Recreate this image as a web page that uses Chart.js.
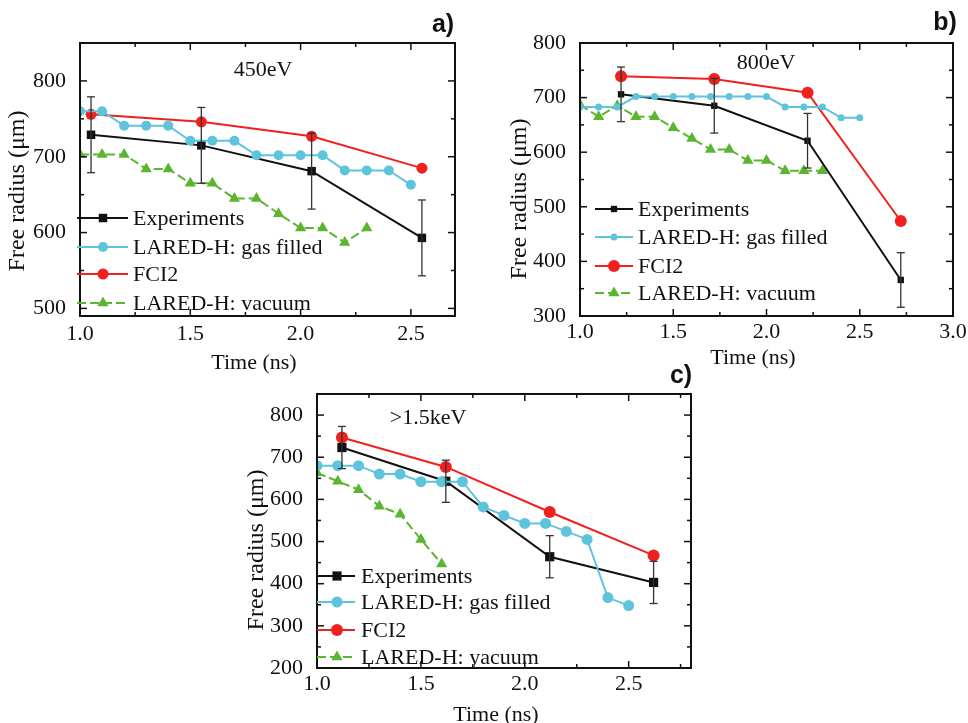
<!DOCTYPE html>
<html>
<head>
<meta charset="utf-8">
<script src="https://cdn.jsdelivr.net/npm/chart.js"></script>
<style>
  body { margin: 0; background: #fff; }
  #wrap { position: relative; width: 968px; height: 723px; overflow: hidden; background: #fff; }
  #wrap canvas { position: absolute; }
</style>
</head>
<body>
<div id="wrap">
  <canvas id="panelA" width="480" height="375" style="left:0px;top:0px"></canvas>
  <canvas id="panelB" width="488" height="375" style="left:480px;top:0px"></canvas>
  <canvas id="panelC" width="480" height="363" style="left:230px;top:360px"></canvas>
</div>
<script>
// a) 450eV
const expTimeA = [1.05, 1.55, 2.05, 2.55];
const expA = [729, 715, 681, 593];
const expErrA = [50, 50, 50, 50];
const fciA = [756, 746, 727, 685];
const gasTimeA = [1.0, 1.1, 1.2, 1.3, 1.4, 1.5, 1.6, 1.7, 1.8, 1.9, 2.0, 2.1, 2.2, 2.3, 2.4, 2.5];
const gasA = [760, 760, 741, 741, 741, 721, 721, 721, 702, 702, 702, 702, 682, 682, 682, 663];
const vacTimeA = [1.0, 1.1, 1.2, 1.3, 1.4, 1.5, 1.6, 1.7, 1.8, 1.9, 2.0, 2.1, 2.2, 2.3];
const vacA = [703, 703, 703, 684, 684, 665, 665, 645, 645, 625, 606, 606, 587, 606];

// b) 800eV
const expTimeB = [1.22, 1.72, 2.22, 2.72];
const expB = [706, 685, 621, 366];
const expErrB = [50, 50, 50, 50];
const fciB = [739, 734, 709, 474];
const gasTimeB = [1.0, 1.1, 1.2, 1.3, 1.4, 1.5, 1.6, 1.7, 1.8, 1.9, 2.0, 2.1, 2.2, 2.3, 2.4, 2.5];
const gasB = [683, 683, 683, 702, 702, 702, 702, 702, 702, 702, 702, 683, 683, 683, 663, 663];
const vacTimeB = [1.0, 1.1, 1.2, 1.3, 1.4, 1.5, 1.6, 1.7, 1.8, 1.9, 2.0, 2.1, 2.2, 2.3];
const vacB = [687, 665, 685, 665, 665, 645, 625, 605, 605, 585, 585, 566, 566, 566];

// c) >1.5keV
const expTimeC = [1.12, 1.62, 2.12, 2.62];
const expC = [723, 643, 464, 403];
const expErrC = [50, 50, 50, 50];
const fciC = [747, 677, 570, 467];
const gasTimeC = [1.0, 1.1, 1.2, 1.3, 1.4, 1.5, 1.6, 1.7, 1.8, 1.9, 2.0, 2.1, 2.2, 2.3, 2.4, 2.5];
const gasC = [680, 680, 680, 660, 660, 642, 642, 642, 582, 562, 543, 543, 524, 505, 367, 348];
const vacTimeC = [1.0, 1.1, 1.2, 1.3, 1.4, 1.5, 1.6];
const vacC = [663, 643, 623, 584, 565, 505, 447];

const seriesLabels = ['Experiments', 'LARED-H: gas filled', 'FCI2', 'LARED-H: vacuum'];

const FONT = 'Liberation Serif';
const INK = '#111';
const COLORS = { exp: '#111111', gas: '#5ec4dc', fci: '#f0201e', vac: '#5cb531' };

function toPoints(xs, ys) {
  return xs.map((x, i) => ({ x: x, y: ys[i] }));
}

function buildDatasets(s) {
  const common = { borderWidth: 2, pointBorderWidth: 0, pointHoverRadius: 0, fill: false };
  return [
    Object.assign({}, common, {
      label: seriesLabels[0], data: toPoints(s.expTime, s.exp), errors: s.expErr,
      borderColor: COLORS.exp, pointBackgroundColor: COLORS.exp, pointStyle: 'rect', pointRadius: s.r[0], order: 1
    }),
    Object.assign({}, common, {
      label: seriesLabels[1], data: toPoints(s.gasTime, s.gas),
      borderColor: COLORS.gas, pointBackgroundColor: COLORS.gas, pointStyle: 'circle', pointRadius: s.r[1], order: 0
    }),
    Object.assign({}, common, {
      label: seriesLabels[2], data: toPoints(s.expTime, s.fci),
      borderColor: COLORS.fci, pointBackgroundColor: COLORS.fci, pointStyle: 'circle', pointRadius: s.r[2], order: 2
    }),
    Object.assign({}, common, {
      label: s.vacLabel || seriesLabels[3], data: toPoints(s.vacTime, s.vac), borderDash: [9, 4],
      borderColor: COLORS.vac, pointBackgroundColor: COLORS.vac, pointStyle: 'triangle', pointRadius: s.r[3], order: 3
    })
  ];
}

function drawMarker(ctx, style, r, x, y, color) {
  ctx.fillStyle = color;
  ctx.beginPath();
  if (style === 'rect') {
    const s = r * Math.SQRT1_2;
    ctx.rect(x - s, y - s, 2 * s, 2 * s);
  } else if (style === 'triangle') {
    for (let k = 0; k < 3; k++) {
      const ang = k * 2 * Math.PI / 3;
      const px = x + Math.sin(ang) * r, py = y - Math.cos(ang) * r;
      if (k === 0) ctx.moveTo(px, py); else ctx.lineTo(px, py);
    }
    ctx.closePath();
  } else {
    ctx.arc(x, y, r, 0, 2 * Math.PI);
  }
  ctx.fill();
}

function line(ctx, x0, y0, x1, y1) {
  ctx.beginPath();
  ctx.moveTo(x0, y0);
  ctx.lineTo(x1, y1);
  ctx.stroke();
}

// inward ticks on both sides of the frame, long at labelled values
function frameTicks(ctx, scale, a, minor, horizontal) {
  const major = scale.options.ticks.stepSize;
  const first = Math.ceil(scale.min / minor - 1e-9);
  const last = Math.floor(scale.max / minor + 1e-9);
  for (let k = first; k <= last; k++) {
    const v = k * minor;
    const len = Math.abs(v / major - Math.round(v / major)) < 1e-6 ? 7 : 4;
    const p = scale.getPixelForValue(v);
    if (horizontal) {
      line(ctx, p, a.bottom, p, a.bottom - len);
      line(ctx, p, a.top, p, a.top + len);
    } else {
      line(ctx, a.left, p, a.left + len, p);
      line(ctx, a.right, p, a.right - len, p);
    }
  }
}

function panelPlugin(p) {
  const ox = p.box.left, oy = p.box.top;
  return {
    id: 'panel',
    afterDatasetsDraw(chart) {
      const { ctx, scales: { x, y } } = chart;
      ctx.save();
      ctx.strokeStyle = '#333';
      ctx.lineWidth = 1.3;
      chart.data.datasets.forEach(ds => {
        if (!ds.errors) return;
        ds.data.forEach((pt, j) => {
          const px = x.getPixelForValue(pt.x);
          const hi = y.getPixelForValue(pt.y + ds.errors[j]);
          const lo = y.getPixelForValue(pt.y - ds.errors[j]);
          line(ctx, px, hi, px, lo);
          line(ctx, px - 4, hi, px + 4, hi);
          line(ctx, px - 4, lo, px + 4, lo);
        });
      });
      ctx.restore();
    },
    afterDraw(chart) {
      const { ctx, chartArea: a, scales: { x, y } } = chart;
      ctx.save();
      ctx.strokeStyle = INK;
      ctx.lineWidth = 2;
      ctx.strokeRect(a.left, a.top, a.right - a.left, a.bottom - a.top);
      ctx.lineWidth = 1.5;
      frameTicks(ctx, x, a, p.minorX, true);
      frameTicks(ctx, y, a, p.minorY, false);

      // legend: line sample with marker, then the label
      const lg = p.legend;
      ctx.font = '22px "' + FONT + '"';
      ctx.textBaseline = 'middle';
      ctx.textAlign = 'left';
      chart.data.datasets.forEach((ds, i) => {
        const ly = lg.ys[i] - oy;
        ctx.strokeStyle = ds.borderColor;
        ctx.lineWidth = 2;
        ctx.setLineDash(ds.borderDash || []);
        line(ctx, lg.x0 - ox, ly, lg.x1 - ox, ly);
        ctx.setLineDash([]);
        drawMarker(ctx, ds.pointStyle, ds.pointRadius, lg.mx - ox, ly, ds.pointBackgroundColor);
        ctx.fillStyle = INK;
        ctx.fillText(ds.label, lg.tx - ox, ly + 1);
      });

      // condition label and panel letter
      ctx.textAlign = 'center';
      ctx.fillStyle = INK;
      ctx.font = '22px "' + FONT + '"';
      ctx.fillText(p.tag, p.tagAt[0] - ox, p.tagAt[1] - oy);
      ctx.font = 'bold 25px "Liberation Sans"';
      ctx.fillText(p.letter, p.letterAt[0] - ox, p.letterAt[1] - oy);

      // axis titles
      ctx.font = '22px "' + FONT + '"';
      ctx.fillText('Time (ns)', p.xTitleAt[0] - ox, p.xTitleAt[1] - oy);
      ctx.translate(p.yTitleAt[0] - ox, p.yTitleAt[1] - oy);
      ctx.rotate(-Math.PI / 2);
      ctx.font = '24px "' + FONT + '"';
      ctx.fillText('Free radius (\u03bcm)', 0, 0);
      ctx.restore();
    }
  };
}

function makePanel(id, p) {
  const box = p.box, area = p.area;
  const tickFont = { family: FONT, size: 22 };
  new Chart(document.getElementById(id), {
    type: 'line',
    data: { datasets: buildDatasets(p.series) },
    options: {
      responsive: false,
      animation: false,
      events: [],
      layout: { padding: { left: 0, top: area.t - box.top, right: box.left + box.w - area.r, bottom: 0 } },
      plugins: { legend: { display: false }, tooltip: { enabled: false } },
      scales: {
        x: {
          type: 'linear', min: p.x[0], max: p.x[1],
          grid: { display: false }, border: { display: false },
          ticks: {
            stepSize: p.x[2], includeBounds: false, autoSkip: false, maxRotation: 0,
            padding: p.xPad, font: tickFont, color: INK,
            callback: v => v.toFixed(1)
          },
          afterFit: s => { s.height = box.top + box.h - area.b; }
        },
        y: {
          type: 'linear', min: p.y[0], max: p.y[1],
          grid: { display: false }, border: { display: false },
          ticks: {
            stepSize: p.y[2], includeBounds: false, autoSkip: false,
            padding: 6, font: tickFont, color: INK,
            callback: v => String(v)
          },
          afterFit: s => { s.width = area.l - box.left; }
        }
      }
    },
    plugins: [panelPlugin(p)]
  });
}

makePanel('panelA', {
  box: { left: 0, top: 0, w: 480, h: 375 },
  area: { l: 80, t: 43, r: 455, b: 316 },
  x: [1.0, 2.7, 0.5], y: [490, 850, 100], minorX: 0.25, minorY: 50, xPad: -3,
  series: { expTime: expTimeA, exp: expA, expErr: expErrA, fci: fciA, gasTime: gasTimeA, gas: gasA,
            vacTime: vacTimeA, vac: vacA, r: [6, 5, 5.5, 6.5] },
  legend: { x0: 77, x1: 128, mx: 103, tx: 133, ys: [218, 247, 274, 303] },
  tag: '450eV', tagAt: [263, 70], letter: 'a)', letterAt: [443, 25],
  xTitleAt: [254, 363], yTitleAt: [18, 191]
});

makePanel('panelB', {
  box: { left: 480, top: 0, w: 488, h: 375 },
  area: { l: 580, t: 43, r: 953, b: 316 },
  x: [1.0, 3.0, 0.5], y: [300, 800, 100], minorX: 0.25, minorY: 50, xPad: -5,
  series: { expTime: expTimeB, exp: expB, expErr: expErrB, fci: fciB, gasTime: gasTimeB, gas: gasB,
            vacTime: vacTimeB, vac: vacB, r: [4.5, 3.5, 6, 6.5] },
  legend: { x0: 595, x1: 633, mx: 614, tx: 638, ys: [209, 237, 266, 293] },
  tag: '800eV', tagAt: [766, 63], letter: 'b)', letterAt: [945, 23],
  xTitleAt: [753, 358], yTitleAt: [520, 199]
});

makePanel('panelC', {
  box: { left: 230, top: 360, w: 480, h: 363 },
  area: { l: 317, t: 394, r: 691, b: 668 },
  x: [1.0, 2.8, 0.5], y: [200, 850, 100], minorX: 0.25, minorY: 50, xPad: -5,
  series: { expTime: expTimeC, exp: expC, expErr: expErrC, fci: fciC, gasTime: gasTimeC, gas: gasC,
            vacTime: vacTimeC, vac: vacC, r: [6.5, 5.5, 6, 6.5], vacLabel: 'LARED-H: yacuum' },
  legend: { x0: 317, x1: 355, mx: 337, tx: 361, ys: [576, 602, 630, 657] },
  tag: '>1.5keV', tagAt: [428, 418], letter: 'c)', letterAt: [681, 376],
  xTitleAt: [496, 715], yTitleAt: [257, 550]
});
</script>
</body>
</html>
